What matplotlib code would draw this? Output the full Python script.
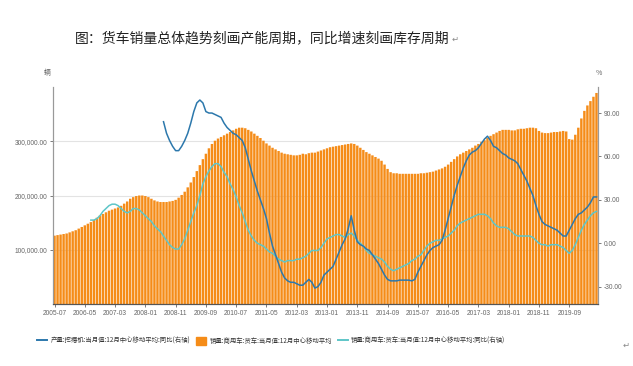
import matplotlib
matplotlib.use("Agg")
import matplotlib.pyplot as plt
from matplotlib.lines import Line2D
from matplotlib.patches import Patch
import pandas as pd

plt.rcParams["font.family"] = ["Noto Sans CJK SC", "DejaVu Sans"]

# 月份: 2005-07 ~ 2020-06
months = pd.date_range("2005-07-01", periods=180, freq="MS").strftime("%Y-%m").tolist()

# 销量:商用车:货车:当月值:12月中心移动平均 (辆, 千)
truck_sales_k = [
    126, 127, 128, 129, 130, 132, 134, 136, 139, 142, 145, 148,
    151, 155, 159, 163, 166, 169, 172, 174, 176, 178, 181, 185,
    189, 194, 197, 199, 200, 200, 199, 197, 194, 191, 189, 188,
    188, 188, 189, 190, 192, 196, 201, 207, 215, 224, 234, 245,
    256, 267, 277, 287, 295, 301, 305, 308, 311, 314, 317, 320,
    323, 325, 325, 324, 321, 318, 314, 310, 306, 301, 296, 292,
    288, 285, 282, 279, 277, 276, 275, 274, 274, 275, 277, 276,
    278, 279, 279, 281, 283, 285, 287, 289, 290, 291, 292, 293,
    294, 295, 296, 295, 292, 288, 284, 280, 277, 274, 271, 268,
    264, 257, 249, 243, 241, 241, 240, 240, 240, 240, 240, 240,
    240, 241, 241, 242, 243, 244, 246, 248, 250, 253, 257, 262,
    267, 272, 276, 279, 282, 285, 288, 292, 295, 299, 302, 306,
    310, 313, 316, 319, 321, 321, 321, 320, 320, 322, 323, 323,
    324, 325, 325, 324, 319, 316, 315, 315, 316, 317, 317, 318,
    319, 318, 304, 303, 312, 325, 342, 356, 366, 374, 382, 389,
]
truck_sales = [v * 1000 for v in truck_sales_k]

# 产量:挖掘机 同比 (%), 从 2008-07 开始
excavator_start = 36
excavator_yoy = [
    84, 76, 71, 67, 64, 64, 67, 71, 76, 83, 91, 97,
    99, 97, 91, 90, 90, 89, 88, 87, 83, 80, 78, 76,
    75, 73, 71, 66, 58, 50, 43, 36, 30, 24, 17, 7,
    -2, -8, -14, -20, -24, -26, -27, -27, -28, -29, -29, -27,
    -25, -27, -31, -30, -27, -22, -20, -18, -16, -11, -6, -1,
    3, 10, 19, 9, 1, -1, -2, -4, -5, -8, -11, -14,
    -18, -22, -25, -26, -26, -26, -25.5, -25.5, -25.5, -25.5, -26, -25,
    -20, -16, -12, -8, -5, -3, -2, -1, 2, 9, 17, 25,
    33, 40, 46, 52, 57, 61, 63, 64, 66, 69, 72, 74,
    71, 67, 66, 64, 62, 61, 59, 58, 57, 55, 51, 47,
    43, 38, 33, 26, 20, 15, 13, 12, 11, 10, 9, 7,
    5, 5, 9, 13, 17, 20, 21, 23, 25, 28, 32, 32,
]

# 货车销量 同比 (%), 从 2006-07 开始
truck_start = 12
truck_yoy = [
    16, 16, 17, 19, 22, 24, 26, 27, 27, 26, 24, 22,
    21, 22, 24, 24, 23, 21, 19, 17, 15, 12, 10, 8,
    5, 2, -1, -3, -4, -4, -1, 3, 9, 15, 21, 26,
    33, 41, 46, 50, 53, 55, 55, 53, 49, 46, 41, 37,
    32, 26, 21, 15, 9, 5, 2, 0, -1, -2, -4, -6,
    -7, -9, -11, -12, -13, -12, -12, -12, -11, -11, -10, -9,
    -7, -5, -5, -5, -3, 0, 3, 4, 5, 6, 6, 5,
    4, 6, 7, 5, 2, 0, -2, -5, -7, -8, -9, -10,
    -11, -13, -16, -18, -19, -18, -17, -16, -15, -14, -12, -11,
    -9, -8, -5, -2, 0, 1, 2, 2, 3, 4, 5, 7,
    9, 12, 14, 15, 16, 17, 18, 19, 20, 20, 20, 19,
    17, 14, 12, 11, 11, 11, 10, 8, 6, 5, 5, 5,
    5, 5, 4, 2, 0, -1, -1, -2, -1, -1, -1, -2,
    -3, -5, -7, -5, -1, 4, 9, 13, 16, 19, 21, 22,
]

title = "图：货车销量总体趋势刻画产能周期，同比增速刻画库存周期"
labels = [
    "产量:挖掘机:当月值:12月中心移动平均:同比(右轴)",
    "销量:商用车:货车:当月值:12月中心移动平均",
    "销量:商用车:货车:当月值:12月中心移动平均:同比(右轴)",
]

c_bar = "#F58C18"
c_blue = "#2C78AC"
c_cyan = "#5EC6C8"
c_tick = "#666666"

fig = plt.figure(figsize=(6.33, 3.66), dpi=100)
ax = fig.add_axes([53 / 633, 1 - 304 / 366, 545 / 633, 217 / 366])
ax2 = ax.twinx()

x = list(range(len(months)))
ax.bar(x, truck_sales, width=0.8, color=c_bar, linewidth=0, snap=False, zorder=2)
ax.set_ylim(0, 400000)
ax.set_xlim(-0.5, len(months) - 0.5)
ax.set_yticks([100000, 200000, 300000])
ax.set_yticklabels(["100,000.00", "200,000.00", "300,000.00"])
ax.grid(axis="y", color="#e3e3e3", linewidth=0.8, zorder=0)
ax.set_axisbelow(True)

ax.set_xticks(x[::10])
ax.set_xticklabels(months[::10])

x_exc = list(range(excavator_start, excavator_start + len(excavator_yoy)))
x_trk = list(range(truck_start, truck_start + len(truck_yoy)))
ax2.plot(x_exc, excavator_yoy, color=c_blue, linewidth=1.1, zorder=4)
ax2.plot(x_trk, truck_yoy, color=c_cyan, linewidth=1.1, zorder=3)
ax2.set_ylim(-42, 108)
ax2.set_yticks([-30, 0, 30, 60, 90])
ax2.set_yticklabels(["-30.00", "0.00", "30.00", "60.00", "90.00"])

for a in (ax, ax2):
    a.spines["top"].set_visible(False)
    a.spines["left"].set_color("#999999")
    a.spines["right"].set_color("#999999")
    a.spines["bottom"].set_color("#555555")
    a.tick_params(labelsize=4.8, colors=c_tick, length=2.5, width=0.6, pad=1.5)
    for t in a.get_xticklabels() + a.get_yticklabels():
        t.set_fontfamily("Liberation Sans")

fig.text(262 / 633, 1 - 38 / 366, title, ha="center", va="center",
         fontsize=10, color="#222222")
fig.text(452 / 633, 1 - 39 / 366, "↵", ha="left", va="center",
         fontsize=6, color="#888888", family="DejaVu Sans")
fig.text(44 / 633, 1 - 73 / 366, "辆", ha="left", va="center",
         fontsize=5, color=c_tick)
fig.text(596 / 633, 1 - 73 / 366, "%", ha="left", va="center",
         fontsize=5, color=c_tick)
fig.text(623 / 633, 1 - 345 / 366, "↵", ha="left", va="center",
         fontsize=6, color="#888888", family="DejaVu Sans")

handles = [
    Line2D([], [], color=c_blue, linewidth=1.4),
    Patch(facecolor=c_bar, edgecolor=c_bar),
    Line2D([], [], color=c_cyan, linewidth=1.4),
]
fig.legend(handles, labels, loc="center left", bbox_to_anchor=(34 / 633, 1 - 341 / 366),
           ncol=3, frameon=False, fontsize=4.6, handlelength=1.6, handleheight=1.4,
           handletextpad=0.5, columnspacing=0.9, borderpad=0, labelcolor="#333333")

fig.savefig("out.png", dpi=100)
